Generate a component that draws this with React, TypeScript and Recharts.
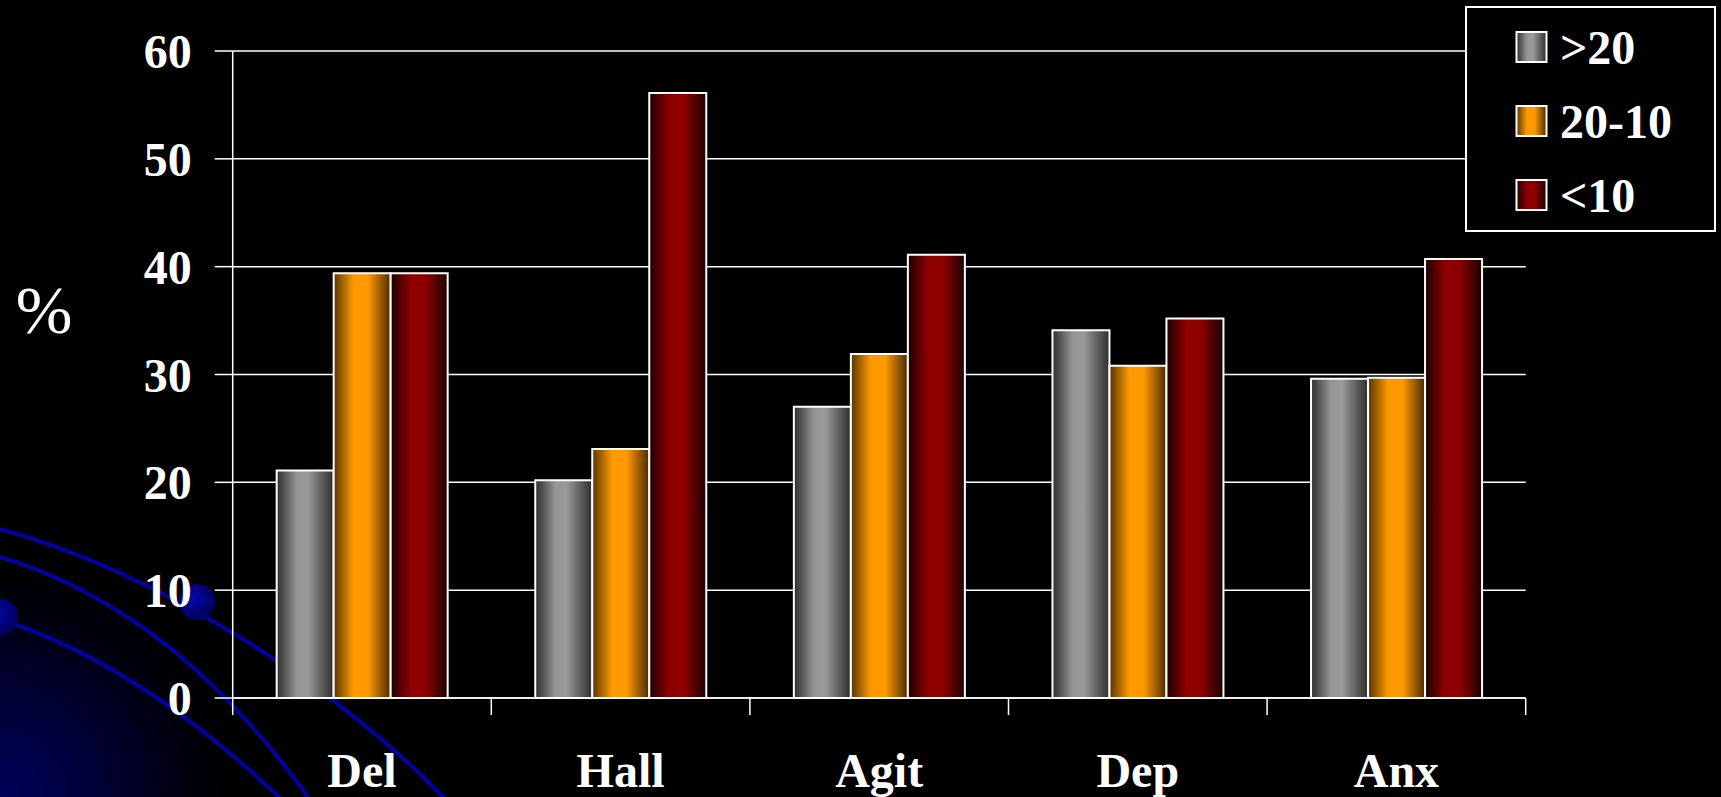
import { Bar, BarChart, CartesianGrid, Legend, XAxis, YAxis } from "recharts";

const CATEGORIES = ["Del", "Hall", "Agit", "Dep", "Anx"];
const OVER_20 = [21.1, 20.2, 27.0, 34.1, 29.6];
const FROM_20_TO_10 = [39.4, 23.1, 31.9, 30.8, 29.7];
const UNDER_10 = [39.4, 56.1, 41.1, 35.2, 40.7];
const Y_TICKS = [0, 10, 20, 30, 40, 50, 60];

const SERIES = [
  { key: "over20", name: ">20", values: OVER_20, grad: "gradGray" },
  { key: "mid", name: "20-10", values: FROM_20_TO_10, grad: "gradOrange" },
  { key: "under10", name: "<10", values: UNDER_10, grad: "gradRed" },
];

const data = CATEGORIES.map((cat, i) => ({
  cat,
  over20: OVER_20[i],
  mid: FROM_20_TO_10[i],
  under10: UNDER_10[i],
}));

const W = 1721;
const H = 797;
const PLOT_LEFT = 232.7;
const PLOT_RIGHT = 1525.7;
const BAND = (PLOT_RIGHT - PLOT_LEFT) / CATEGORIES.length;
const FONT = "Liberation Serif";

// horizontal shading used by both the bars and the legend swatches
function BarGradients() {
  return (
    <>
      <linearGradient id="gradGray" x1="0" y1="0" x2="1" y2="0">
        <stop offset="0%" stopColor="#2e2e2e" />
        <stop offset="35%" stopColor="#959595" />
        <stop offset="55%" stopColor="#999999" />
        <stop offset="100%" stopColor="#2e2e2e" />
      </linearGradient>
      <linearGradient id="gradOrange" x1="0" y1="0" x2="1" y2="0">
        <stop offset="0%" stopColor="#5a3500" />
        <stop offset="35%" stopColor="#ff9900" />
        <stop offset="60%" stopColor="#ff9900" />
        <stop offset="100%" stopColor="#4a2b00" />
      </linearGradient>
      <linearGradient id="gradRed" x1="0" y1="0" x2="1" y2="0">
        <stop offset="0%" stopColor="#1e0000" />
        <stop offset="35%" stopColor="#8e0000" />
        <stop offset="60%" stopColor="#8e0000" />
        <stop offset="100%" stopColor="#180000" />
      </linearGradient>
    </>
  );
}

// category label plus the boundary tick marks under the x axis
function CategoryTick(props: any) {
  const { x, y, payload, index } = props;
  const left = x - BAND / 2;
  return (
    <g>
      <line x1={left} x2={left} y1={y} y2={y + 17} stroke="#fff" strokeWidth={1.5} />
      {index === CATEGORIES.length - 1 && (
        <line x1={left + BAND} x2={left + BAND} y1={y} y2={y + 17} stroke="#fff" strokeWidth={1.5} />
      )}
      <text
        x={x}
        y={y + 89}
        textAnchor="middle"
        fill="#fff"
        fontFamily={FONT}
        fontWeight="bold"
        fontSize={48}
      >
        {payload.value}
      </text>
    </g>
  );
}

function LegendBox() {
  return (
    <svg width={251} height={226} style={{ display: "block" }}>
      <rect x={1} y={1} width={249} height={224} fill="#000" stroke="#fff" strokeWidth={2} />
      {SERIES.map((s, i) => {
        const cy = 41 + i * 74;
        return (
          <g key={s.key}>
            <rect
              x={51.5}
              y={cy - 15}
              width={30}
              height={30}
              fill={`url(#${s.grad})`}
              stroke="#fff"
              strokeWidth={2}
            />
            <text
              x={95}
              y={cy + 16.5}
              fill="#fff"
              fontFamily={FONT}
              fontWeight="bold"
              fontSize={48}
            >
              {s.name}
            </text>
          </g>
        );
      })}
    </svg>
  );
}

function Backdrop() {
  return (
    <svg width={W} height={H} style={{ position: "absolute", left: 0, top: 0 }}>
      <defs>
        <radialGradient id="haze" cx="0" cy={H} r="260" gradientUnits="userSpaceOnUse">
          <stop offset="0%" stopColor="#00005c" />
          <stop offset="55%" stopColor="#000024" />
          <stop offset="100%" stopColor="#000" stopOpacity={0} />
        </radialGradient>
        <radialGradient id="dot" cx="40%" cy="40%" r="60%">
          <stop offset="0%" stopColor="#0808a8" />
          <stop offset="100%" stopColor="#00005e" />
        </radialGradient>
      </defs>
      <rect width={W} height={H} fill="#000" />
      <rect x={0} y={H - 260} width={260} height={260} fill="url(#haze)" />
      <g fill="none" stroke="#0000a4" strokeWidth={4}>
        <path d="M0,529 C150,570 330,680 446,800" />
        <path d="M0,557 Q175,610 310,800" />
        <path d="M0,619 Q140,665 282,800" />
      </g>
      <circle cx={197} cy={602} r={18} fill="url(#dot)" />
      <circle cx={0} cy={617} r={18} fill="url(#dot)" />
    </svg>
  );
}

export default function App() {
  return (
    <div style={{ position: "absolute", left: 0, top: 0, width: W, height: H, background: "#000" }}>
      <Backdrop />
      <div style={{ position: "absolute", left: 0, top: 0 }}>
        <BarChart
          width={W}
          height={H}
          data={data}
          margin={{ top: 51, right: W - PLOT_RIGHT, bottom: 0, left: PLOT_LEFT - 120 }}
          barCategoryGap="17%"
          barGap={0}
        >
          <defs>
            <BarGradients />
          </defs>
          <CartesianGrid vertical={false} stroke="#fff" strokeWidth={1.5} />
          <XAxis
            dataKey="cat"
            height={99}
            axisLine={{ stroke: "#fff", strokeWidth: 1.5 }}
            tickLine={false}
            tickSize={0}
            tickMargin={0}
            tick={<CategoryTick />}
            interval={0}
          />
          <YAxis
            width={120}
            domain={[0, 60]}
            ticks={Y_TICKS}
            interval={0}
            axisLine={{ stroke: "#fff", strokeWidth: 1.5 }}
            tickLine={{ stroke: "#fff", strokeWidth: 1.5 }}
            tickSize={18}
            tickMargin={23}
            tick={{ fill: "#fff", fontSize: 48, fontWeight: "bold", fontFamily: FONT }}
            label={{
              value: "%",
              content: () => (
                <text x={44} y={333} textAnchor="middle" fill="#fff" fontFamily={FONT} fontSize={68}>
                  %
                </text>
              ),
            }}
          />
          <Legend
            layout="vertical"
            align="center"
            verticalAlign="middle"
            wrapperStyle={{ left: 1465, top: 6, width: 251, height: 226 }}
            content={() => <LegendBox />}
          />
          {SERIES.map((s) => (
            <Bar
              key={s.key}
              dataKey={s.key}
              name={s.name}
              fill={`url(#${s.grad})`}
              stroke="#fff"
              strokeWidth={2}
              isAnimationActive={false}
            />
          ))}
        </BarChart>
      </div>
    </div>
  );
}
